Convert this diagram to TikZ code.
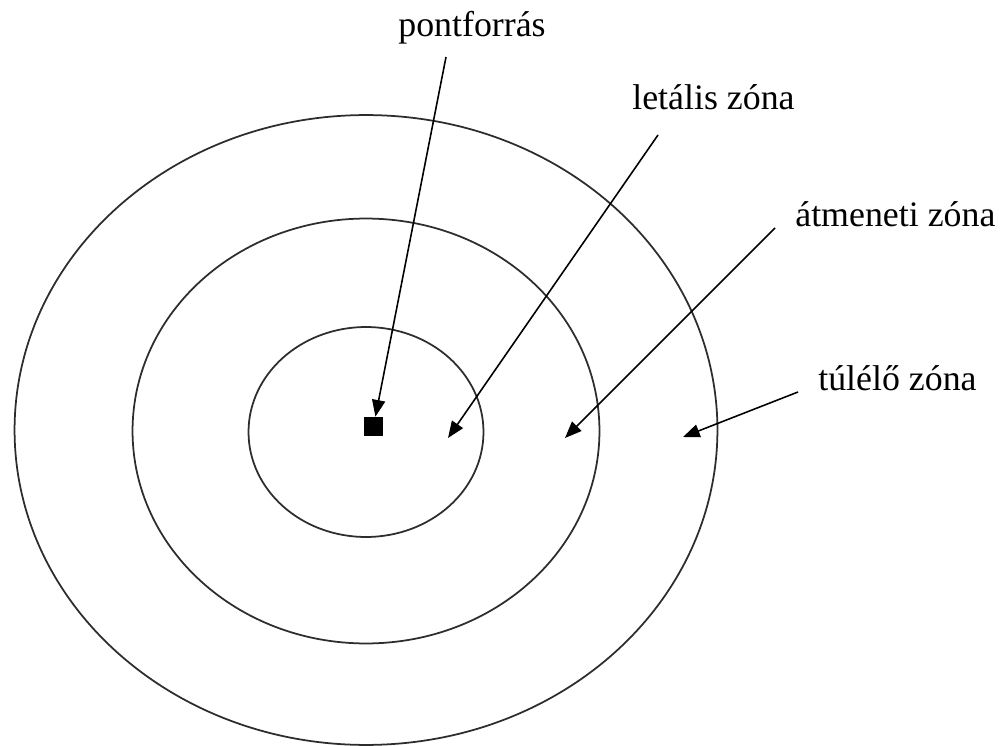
\documentclass[tikz,border=0pt]{standalone}
\usepackage{fontspec}
\setmainfont{Liberation Serif}
\usepackage{tikz}
\usetikzlibrary{arrows.meta, positioning, shapes.geometric}
\definecolor{ringgray}{RGB}{45, 45, 45}

\begin{document}
\begin{tikzpicture}[
  x=0.02cm, y=-0.02cm,
  zone/.style={ellipse, draw=ringgray, line width=1pt, inner sep=0pt},
  source/.style={rectangle, fill=black, minimum size=0.38cm, inner sep=0pt},
  label/.style={anchor=base west, inner sep=0pt, font=\fontsize{20.4}{24}\selectfont},
  pointer/.style={draw=black, line width=0.9pt, -{Triangle[length=9.5pt, width=7.5pt]}}
]
  \useasboundingbox (0,0) rectangle (1000,746);

  \node[zone, minimum width=14.06cm, minimum height=12.60cm] (outer) at (366,430) {};
  \node[zone, minimum width=9.34cm, minimum height=8.50cm] (middle) at (366,431) {};
  \node[zone, minimum width=4.70cm, minimum height=4.20cm] (inner) at (366,432) {};

  \node[source] (src) at (373.5,426.5) {};

  \node[label] (pont) at (398,37) {pontforrás};
  \node[label] (letal) at (632,110) {letális zóna};
  \node[label] (atmen) at (795,227) {átmeneti zóna};
  \node[label] (tulel) at (818,390) {túlélő zóna};

  \coordinate (pontTail) at (446,57);
  \coordinate (letalTail) at (658,135);
  \coordinate (letalTip) at (448,438);
  \coordinate (atmenTail) at (775,228);
  \coordinate (atmenTip) at (565,438);
  \coordinate (tulelTail) at (798,392);
  \coordinate (tulelTip) at (683,437);

  \path[pointer] (pontTail) -- (src);
  \path[pointer] (letalTail) -- (letalTip);
  \path[pointer] (atmenTail) -- (atmenTip);
  \path[pointer] (tulelTail) -- (tulelTip);

\end{tikzpicture}
\end{document}
